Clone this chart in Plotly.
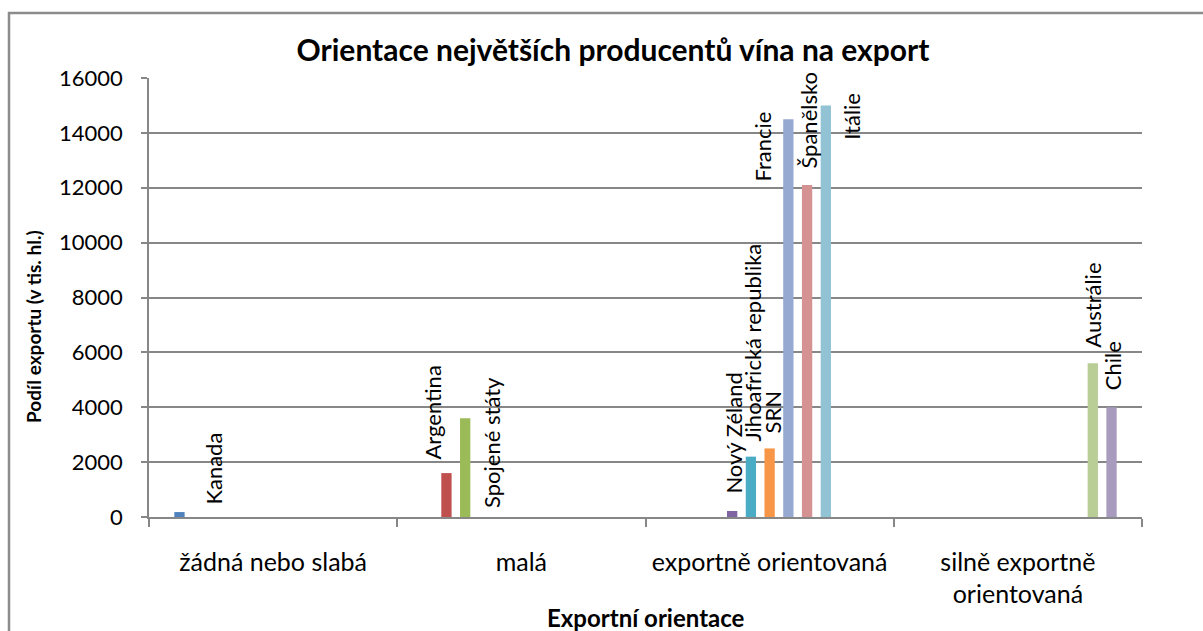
import plotly.graph_objects as go

categories = ["žádná nebo slabá", "malá", "exportně orientovaná", "silně exportně<br>orientovaná"]
countries = ["Kanada", "Argentina", "Spojené státy", "Nový Zéland", "Jihoafrická republika",
             "SRN", "Francie", "Španělsko", "Itálie", "Austrálie", "Chile"]
country_category = [0, 1, 1, 2, 2, 2, 2, 2, 2, 3, 3]
export_values = [180, 1600, 3600, 220, 2200, 2500, 14500, 12100, 15000, 5600, 4000]
y_ticks = [0, 2000, 4000, 6000, 8000, 10000, 12000, 14000, 16000]

colors = ["#4F81BD", "#C0504D", "#9BBB59", "#8064A2", "#4BACC6", "#F79646",
          "#96A9D0", "#D49292", "#92C3D4", "#B9CD97", "#A99BBD"]
# label offsets (px) relative to the bar top-centre, as in the reference
label_dx = [34, -14, 27, 1, 2, 3, -26, 1, 26, 0, 1]
label_dy = [7, 13, -91, 16, 14, 14, -63, 15, -35, 15, 16]

FONT = "Lato"
GRAY = "#878787"
BARGAP = 0.17
n = len(countries)

fig = go.Figure()
for i, name in enumerate(countries):
    vals = [None] * len(categories)
    vals[country_category[i]] = export_values[i]
    fig.add_trace(go.Bar(x=categories, y=vals, name=name, marker_color=colors[i],
                         marker_line_width=0, showlegend=False))

slot = (1 - BARGAP) / n
for i, name in enumerate(countries):
    fig.add_annotation(x=country_category[i] + (i - (n - 1) / 2) * slot, y=export_values[i],
                       xref="x", yref="y", text=name, textangle=-90, showarrow=False,
                       xanchor="center", yanchor="bottom", xshift=label_dx[i], yshift=label_dy[i],
                       borderpad=0, font=dict(family=FONT, size=22, color="black"))

L, R, T, B = 149, 61, 78, 114
W, H = 1203, 631
pw, ph = W - L - R, H - T - B

fig.update_layout(
    width=W, height=H,
    margin=dict(l=L, r=R, t=T, b=B),
    barmode="group", bargap=BARGAP, bargroupgap=0.45,
    plot_bgcolor="white", paper_bgcolor="white",
    font=dict(family=FONT, size=21, color="black"),
    title=dict(text="<b>Orientace největších producentů vína na export</b>",
               x=613 / W, xref="container", xanchor="center",
               y=1 - 50 / H, yref="container", yanchor="middle",
               font=dict(family=FONT, size=30, color="black")),
    xaxis=dict(type="category", showline=True, linecolor=GRAY, linewidth=1.5,
               ticks="outside", tickson="boundaries", ticklen=8, tickcolor=GRAY, tickwidth=1.5,
               showgrid=False, ticklabelstandoff=22,
               tickfont=dict(family=FONT, size=25, color="black")),
    yaxis=dict(range=[0, 16000], tickvals=y_ticks, tickformat="d",
               showline=True, linecolor=GRAY, linewidth=1.5,
               ticks="outside", ticklen=6, tickcolor=GRAY, tickwidth=1.5,
               showgrid=True, gridcolor=GRAY, gridwidth=1.5, zeroline=False,
               ticklabelstandoff=14,
               tickfont=dict(family=FONT, size=22, color="black")),
)

fig.add_annotation(text="<b>Podíl exportu (v tis. hl.)</b>", textangle=-90, showarrow=False,
                   xref="paper", yref="paper", x=(33 - L) / pw, y=(H - B - 327) / ph,
                   xanchor="center", yanchor="middle", font=dict(family=FONT, size=19, color="black"))
fig.add_annotation(text="<b>Exportní orientace</b>", showarrow=False,
                   xref="paper", yref="paper", x=(646 - L) / pw, y=(H - B - 617) / ph,
                   xanchor="center", yanchor="middle", font=dict(family=FONT, size=24, color="black"))

fig.add_shape(type="rect", xref="paper", yref="paper",
              x0=(9 - L) / pw, x1=1.2, y0=-0.6, y1=(H - B - 13) / ph,
              line=dict(color="#8C8C8C", width=2.5), fillcolor="rgba(0,0,0,0)", layer="below")

fig.write_html("out.html", config={"displayModeBar": False},
               post_script="document.body.style.margin='0px';")
